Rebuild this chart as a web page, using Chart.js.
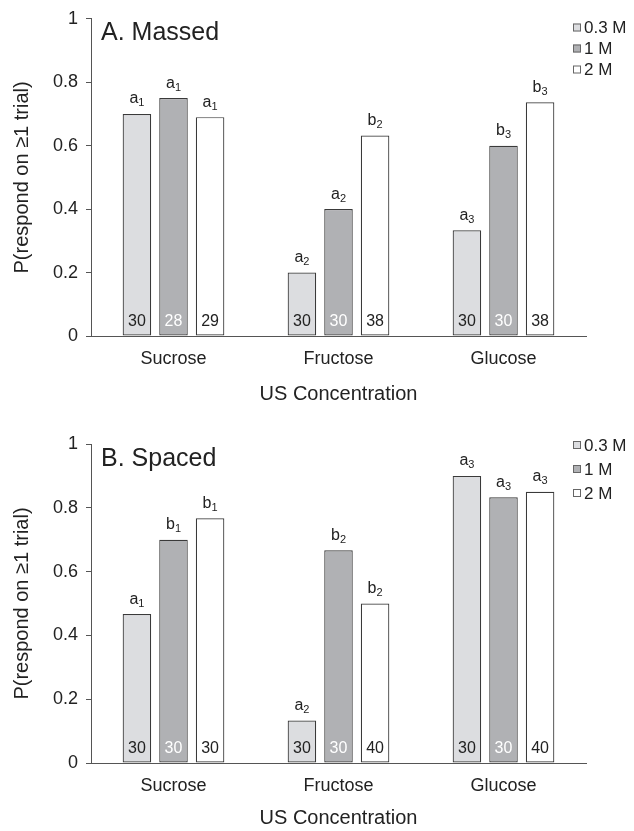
<!DOCTYPE html>
<html>
<head>
<meta charset="utf-8">
<script src="https://cdn.jsdelivr.net/npm/chart.js@4"></script>
<style>
  body { margin: 0; background: #fff; }
  canvas { display: block; }
</style>
</head>
<body>
<canvas id="massado" width="634" height="410"></canvas>
<canvas id="espacado" width="634" height="421"></canvas>
<script>
// dados
const categorias = ['Sucrose', 'Fructose', 'Glucose'];
const concentracoes = ['0.3 M', '1 M', '2 M'];
const yTicks = [0, 0.2, 0.4, 0.6, 0.8, 1];

// A. Massed
const massed03 = [0.70, 0.20, 0.333];
const massed1 = [0.75, 0.40, 0.60];
const massed2 = [0.69, 0.632, 0.737];
const massedLetras = [['a1', 'a2', 'a3'], ['a1', 'a2', 'b3'], ['a1', 'b2', 'b3']];
const massedN = [[30, 30, 30], [28, 30, 30], [29, 38, 38]];

// B. Spaced
const spaced03 = [0.467, 0.133, 0.90];
const spaced1 = [0.70, 0.667, 0.833];
const spaced2 = [0.767, 0.50, 0.85];
const spacedLetras = [['a1', 'a2', 'a3'], ['b1', 'b2', 'a3'], ['b1', 'b2', 'a3']];
const spacedN = [[30, 30, 30], [30, 30, 30], [30, 40, 40]];

const cores = ['#dcdde0', '#b0b1b4', '#ffffff'];
const fonte = '"Liberation Sans", Arial, sans-serif';
const corTexto = '#222';

Chart.defaults.font.family = fonte;
Chart.defaults.color = corTexto;

// plugin para as letras, os n e a legenda
const anotacoes = {
  id: 'anotacoes',
  afterDatasetsDraw(chart, args, opts) {
    const ctx = chart.ctx;
    ctx.save();
    chart.data.datasets.forEach((ds, i) => {
      const meta = chart.getDatasetMeta(i);
      meta.data.forEach((bar, j) => {
        const lbl = opts.letras[i][j];
        const letra = lbl[0], sub = lbl.slice(1);
        ctx.font = '16px ' + fonte;
        const w1 = ctx.measureText(letra).width;
        ctx.font = '11px ' + fonte;
        const w2 = ctx.measureText(sub).width;
        const x0 = bar.x - (w1 + w2) / 2;
        ctx.fillStyle = corTexto;
        ctx.textAlign = 'left';
        ctx.textBaseline = 'alphabetic';
        ctx.font = '16px ' + fonte;
        ctx.fillText(letra, x0, bar.y - 10.5);
        ctx.font = '11px ' + fonte;
        ctx.fillText(sub, x0 + w1, bar.y - 7.5);

        // n dentro da barra
        ctx.font = '16px ' + fonte;
        ctx.textAlign = 'center';
        ctx.textBaseline = 'middle';
        ctx.fillStyle = i === 1 ? '#ffffff' : corTexto;
        ctx.fillText(String(opts.n[i][j]), bar.x, bar.base - 14);
      });
    });
    ctx.restore();
  },
  afterDraw(chart, args, opts) {
    const ctx = chart.ctx;
    const area = chart.chartArea;
    ctx.save();
    // título do painel
    ctx.font = '25px ' + fonte;
    ctx.fillStyle = corTexto;
    ctx.textAlign = 'left';
    ctx.textBaseline = 'alphabetic';
    ctx.fillText(opts.titulo, area.left + 10, area.top + 21.5);

    // legenda
    chart.data.datasets.forEach((ds, i) => {
      const y = opts.legendaY + i * opts.legendaPasso;
      ctx.fillStyle = ds.backgroundColor;
      ctx.fillRect(573, y - 4, 8, 8);
      ctx.strokeStyle = '#666';
      ctx.lineWidth = 1;
      ctx.strokeRect(573.5, y - 3.5, 7, 7);
      ctx.fillStyle = corTexto;
      ctx.font = '17px ' + fonte;
      ctx.textBaseline = 'middle';
      ctx.fillText(ds.label, 584, y + 1);
    });
    ctx.restore();
  }
};

function criarGrafico(id, series, letras, n, titulo, cfg) {
  const ctx = document.getElementById(id).getContext('2d');
  return new Chart(ctx, {
    type: 'bar',
    data: {
      labels: categorias,
      datasets: series.map((s, i) => ({
        label: concentracoes[i],
        data: s,
        backgroundColor: cores[i],
        borderColor: '#3a3a3a',
        borderWidth: 1.2,
        borderSkipped: false,
        categoryPercentage: 0.665,
        barPercentage: 0.78
      }))
    },
    options: {
      responsive: false,
      animation: false,
      devicePixelRatio: 1,
      layout: { padding: cfg.padding },
      plugins: {
        legend: { display: false },
        tooltip: { enabled: false },
        anotacoes: { letras: letras, n: n, titulo: titulo, legendaY: cfg.legendaY, legendaPasso: cfg.legendaPasso }
      },
      scales: {
        x: {
          grid: { display: false, drawTicks: false },
          border: { display: true, color: '#555', width: 1 },
          ticks: { font: { size: 18 }, color: corTexto, padding: 12 },
          title: { display: true, text: 'US Concentration', font: { size: 20 }, color: corTexto, padding: 0 },
          afterFit(scale) { scale.height = cfg.alturaX; }
        },
        y: {
          min: 0,
          max: 1,
          afterBuildTicks(scale) { scale.ticks = yTicks.map(v => ({ value: v })); },
          grid: { drawOnChartArea: false, drawTicks: true, tickLength: 5, color: '#555' },
          border: { display: true, color: '#555', width: 1 },
          ticks: { font: { size: 18 }, color: corTexto, padding: 8, callback: v => String(v) },
          title: { display: true, text: 'P(respond on ≥1 trial)', font: { size: 20 }, color: corTexto, padding: 0 },
          afterFit(scale) { scale.width = 81; }
        }
      }
    },
    plugins: [anotacoes]
  });
}

criarGrafico('massado', [massed03, massed1, massed2], massedLetras, massedN, 'A. Massed',
  { padding: { top: 17, left: 10, right: 48, bottom: 4 }, alturaX: 70, legendaY: 27.5, legendaPasso: 21 });

criarGrafico('espacado', [spaced03, spaced1, spaced2], spacedLetras, spacedN, 'B. Spaced',
  { padding: { top: 34, left: 10, right: 48, bottom: 1 }, alturaX: 67, legendaY: 35, legendaPasso: 24 });
</script>
</body>
</html>
